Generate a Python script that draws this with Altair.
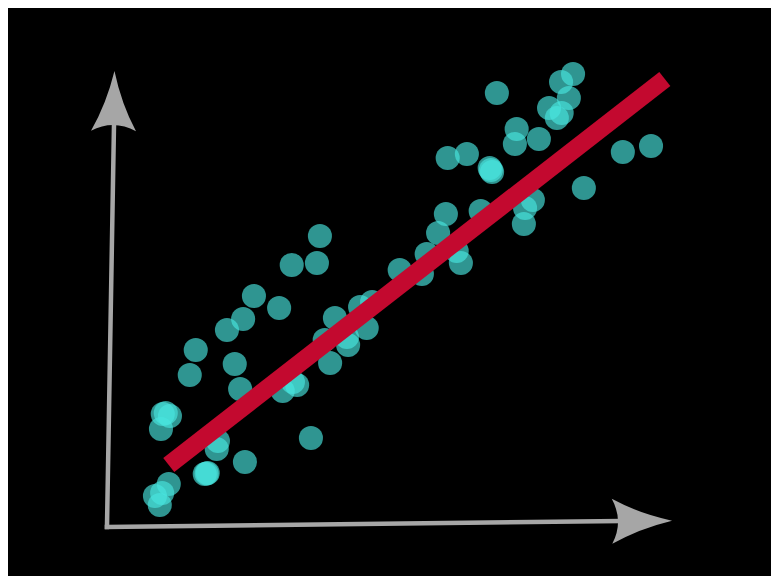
import altair as alt
import pandas as pd

# ---- scatter data (abstract units) ----
xs = [0.80, 0.92, 0.88, 1.03, 0.93, 1.05, 0.98, 0.90, 1.38, 1.48, 1.63, 1.68, 1.66,
      1.85, 1.83, 2.30, 2.00, 2.27, 2.13, 2.22, 2.45, 2.87, 3.08, 3.50, 3.55,
      2.93, 3.10, 3.17, 3.40, 3.63, 3.72, 3.80, 4.00, 4.02, 4.22, 4.42, 4.33,
      4.88, 5.25, 5.33, 5.52, 5.65, 5.83, 5.90, 6.23, 5.68, 6.00, 6.38, 6.42,
      6.40, 6.50, 6.83, 6.80, 7.20, 7.10, 6.97, 6.95, 7.95, 8.60, 9.07, 7.57,
      7.77, 7.70, 7.37, 7.50, 7.58]
ys = [0.62, 0.68, 0.44, 0.86, 2.26, 2.22, 2.28, 1.96, 3.04, 3.54, 1.06, 1.08, 1.07,
      1.72, 1.56, 1.30, 3.94, 4.16, 3.26, 2.76, 4.62, 4.38, 5.24, 5.28, 5.82,
      2.72, 2.90, 2.84, 1.78, 3.74, 3.28, 4.18, 3.80, 3.64, 4.40, 4.50, 3.98,
      5.14, 5.06, 5.46, 5.88, 6.26, 5.52, 5.28, 6.32, 7.38, 7.46, 7.18, 7.10,
      7.14, 8.68, 7.96, 7.66, 7.76, 6.54, 6.38, 6.06, 6.78, 7.50, 7.62, 8.90,
      9.06, 8.58, 8.38, 8.18, 8.28]

# ---- fitted line endpoints ----
fit_x = [1.03, 9.30]
fit_y = [1.24, 8.96]

# ---- hand-drawn axes (shafts and arrowheads) ----
shaft_x = [0.0, 0.0]
shaft_y = [0.0, 0.0]
shaft_x2 = [0.117, 8.55]
shaft_y2 = [8.04, 0.12]
head_x = [0.117, 8.92]
head_y = [8.52, 0.12]
head_angle = [0.9, 89.3]

XDOM = [-1.65, 11.07]
YDOM = [-0.98, 10.38]

pts = pd.DataFrame({"x": xs, "y": ys})
fit = pd.DataFrame({"x": fit_x, "y": fit_y})
shafts = pd.DataFrame({"x": shaft_x, "y": shaft_y, "x2": shaft_x2, "y2": shaft_y2})
heads = pd.DataFrame({"x": head_x, "y": head_y, "a": head_angle})

xsc = alt.Scale(domain=XDOM, nice=False, zero=False)
ysc = alt.Scale(domain=YDOM, nice=False, zero=False)

points = alt.Chart(pts).mark_circle(
    size=580, color="#48e5de", opacity=0.65
).encode(
    x=alt.X("x:Q", scale=xsc, axis=None),
    y=alt.Y("y:Q", scale=ysc, axis=None),
)

line = alt.Chart(fit).mark_line(
    color="#c3092f", strokeWidth=18, strokeCap="butt"
).encode(
    x=alt.X("x:Q", scale=xsc, axis=None),
    y=alt.Y("y:Q", scale=ysc, axis=None),
)

rules = alt.Chart(shafts).mark_rule(
    color="#a6a6a6", strokeWidth=4.5, strokeCap="square"
).encode(
    x=alt.X("x:Q", scale=xsc, axis=None),
    y=alt.Y("y:Q", scale=ysc, axis=None),
    x2="x2:Q",
    y2="y2:Q",
)

arrow_path = "M0,-1 Q0.25,0.1 0.75,1 Q0,0.6 -0.75,1 Q-0.25,0.1 0,-1 Z"
heads_layer = alt.Chart(heads).mark_point(
    shape=arrow_path, filled=True, color="#a6a6a6", opacity=1, size=3600
).encode(
    x=alt.X("x:Q", scale=xsc, axis=None),
    y=alt.Y("y:Q", scale=ysc, axis=None),
    angle=alt.Angle("a:Q", scale=None),
)

chart = alt.layer(points, line, rules, heads_layer).properties(
    width=763, height=568, padding=0, background="black"
).configure_view(strokeWidth=0, stroke="transparent")

chart.save("out.html", embed_options={"renderer": "svg", "actions": False})
